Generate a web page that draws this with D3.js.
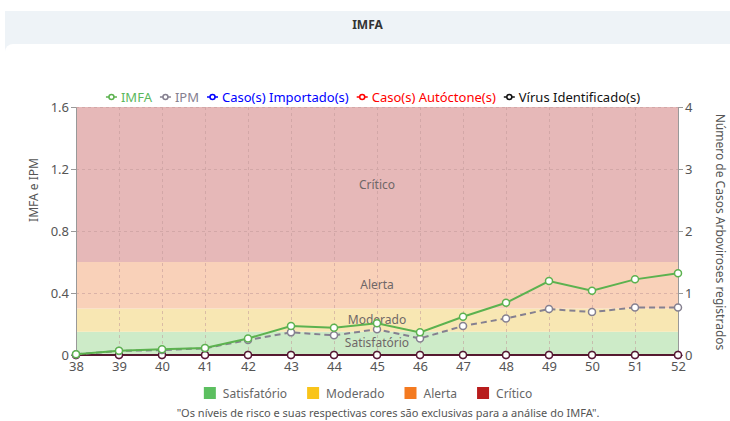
<!DOCTYPE html>
<html>
<head>
<meta charset="utf-8">
<script src="https://cdn.jsdelivr.net/npm/d3@7.9.0/dist/d3.min.js"></script>
<style>
  body { margin: 0; background: #fff; font-family: 'Noto Sans', sans-serif; }
  .wrap { position: absolute; left: 5px; top: 11px; width: 725px; height: 410px; background: #eef3f7; }
  .title { height: 33px; line-height: 27px; text-align: center; font-weight: bold; font-size: 12px; color: #333; }
  .card { position: absolute; left: 0; top: 33px; right: 0; bottom: 0; background: #fff; border-top-left-radius: 8px; }
  svg { position: absolute; left: 0; top: 0; }
</style>
</head>
<body>
<div class="wrap"><div class="title">IMFA</div><div class="card"></div></div>
<svg width="730" height="421"></svg>
<script>
const weeks = [38, 39, 40, 41, 42, 43, 44, 45, 46, 47, 48, 49, 50, 51, 52];
const imfa = [0.005, 0.028, 0.037, 0.045, 0.107, 0.187, 0.176, 0.205, 0.146, 0.247, 0.337, 0.477, 0.415, 0.488, 0.527];
const ipm = [0.005, 0.026, 0.032, 0.043, 0.097, 0.146, 0.127, 0.166, 0.107, 0.187, 0.236, 0.297, 0.277, 0.307, 0.307];
const importados = [0, 0, 0, 0, 0, 0, 0, 0, 0, 0, 0, 0, 0, 0, 0];
const autoctones = [0, 0, 0, 0, 0, 0, 0, 0, 0, 0, 0, 0, 0, 0, 0];
const virus = [0, 0, 0, 0, 0, 0, 0, 0, 0, 0, 0, 0, 0, 0, 0];
const leftTicks = [0, 0.4, 0.8, 1.2, 1.6];
const rightTicks = [0, 1, 2, 3, 4];

const bands = [
  { label: 'Satisfatório', from: 0, to: 0.15, fill: '#cdebc8', swatch: '#5cbf60' },
  { label: 'Moderado', from: 0.15, to: 0.3, fill: '#f8e7b3', swatch: '#f9c41a' },
  { label: 'Alerta', from: 0.3, to: 0.6, fill: '#f9d1b9', swatch: '#f47a20' },
  { label: 'Crítico', from: 0.6, to: 1.6, fill: '#e6b8b8', swatch: '#b81c1c' }
];

const series = [
  { name: 'IMFA', values: imfa, color: '#5cb24f', axis: 'left', dash: null },
  { name: 'IPM', values: ipm, color: '#858090', axis: 'left', dash: '6,4' },
  { name: 'Caso(s) Importado(s)', values: importados, color: '#0000ff', axis: 'right', dash: null },
  { name: 'Caso(s) Autóctone(s)', values: autoctones, color: '#ff0000', axis: 'right', dash: null },
  { name: 'Vírus Identificado(s)', values: virus, color: '#111111', axis: 'right', dash: null }
];

const svg = d3.select('svg');
const margin = { left: 76, right: 678, top: 107, bottom: 355 };

const x = d3.scaleLinear().domain([38, 52]).range([margin.left, margin.right]);
const y = d3.scaleLinear().domain([0, 1.6]).range([margin.bottom, margin.top]);
const y2 = d3.scaleLinear().domain([0, 4]).range([margin.bottom, margin.top]);

// faixas de risco
svg.append('g')
  .selectAll('rect')
  .data(bands)
  .join('rect')
  .attr('x', margin.left)
  .attr('width', margin.right - margin.left)
  .attr('y', (d) => y(d.to))
  .attr('height', (d) => y(d.from) - y(d.to))
  .attr('fill', (d) => d.fill);

// grade
const grid = svg.append('g').attr('stroke', '#c29a9a').attr('stroke-dasharray', '3,3').attr('stroke-width', 1).attr('opacity', 0.55);
grid.selectAll('.v')
  .data(weeks.slice(1, -1))
  .join('line')
  .attr('x1', (d) => x(d) + 0.5).attr('x2', (d) => x(d) + 0.5)
  .attr('y1', margin.top).attr('y2', margin.bottom);
grid.selectAll('.h')
  .data(leftTicks.slice(1))
  .join('line')
  .attr('x1', margin.left).attr('x2', margin.right)
  .attr('y1', (d) => y(d) + 0.5).attr('y2', (d) => y(d) + 0.5);

// rótulos das faixas
svg.append('g')
  .selectAll('text')
  .data(bands)
  .join('text')
  .attr('x', (margin.left + margin.right) / 2)
  .attr('y', (d) => y((d.from + d.to) / 2) + 4)
  .attr('text-anchor', 'middle')
  .attr('font-size', 12)
  .attr('fill', '#6f6767')
  .text((d) => d.label);

// eixos
const axisStyle = (g) => {
  g.selectAll('text').attr('fill', '#555').attr('font-size', 13).attr('font-family', "'Noto Sans', sans-serif");
  g.selectAll('line').attr('stroke', '#999');
  g.select('.domain').attr('stroke', '#999');
};

svg.append('g')
  .attr('transform', `translate(${margin.left},0)`)
  .call(d3.axisLeft(y).tickValues(leftTicks).tickFormat((d) => d === 0 ? '0' : d3.format('.1f')(d)).tickSize(5).tickSizeOuter(0).tickPadding(2))
  .call(axisStyle);

svg.append('g')
  .attr('transform', `translate(${margin.right},0)`)
  .call(d3.axisRight(y2).tickValues(rightTicks).tickFormat(d3.format('d')).tickSize(5).tickSizeOuter(0).tickPadding(2))
  .call(axisStyle);

svg.append('g')
  .attr('transform', `translate(0,${margin.bottom})`)
  .call(d3.axisBottom(x).tickValues(weeks).tickFormat(d3.format('d')).tickSize(0).tickPadding(7))
  .call(axisStyle)
  .call((g) => g.select('.domain').remove());

// títulos dos eixos
svg.append('text')
  .attr('transform', 'translate(38,190) rotate(-90)')
  .attr('text-anchor', 'middle')
  .attr('font-size', 12)
  .attr('fill', '#555')
  .text('IMFA e IPM');

svg.append('text')
  .attr('transform', 'translate(716,232) rotate(90)')
  .attr('text-anchor', 'middle')
  .attr('font-size', 12)
  .attr('fill', '#555')
  .text('Número de Casos Arboviroses registrados');

// linhas e marcadores
const drawOrder = [2, 3, 4, 1, 0];
drawOrder.forEach((i) => {
  const s = series[i];
  const ys = s.axis === 'left' ? y : y2;
  const line = d3.line().x((d, j) => x(weeks[j])).y((d) => ys(d));
  const g = svg.append('g').attr('opacity', s.axis === 'right' ? 0.6 : 1);
  g.append('path')
    .datum(s.values)
    .attr('d', line)
    .attr('fill', 'none')
    .attr('stroke', s.color)
    .attr('stroke-width', 2)
    .attr('stroke-dasharray', s.dash);
  g.selectAll('circle')
    .data(s.values)
    .join('circle')
    .attr('cx', (d, j) => x(weeks[j]))
    .attr('cy', (d) => ys(d))
    .attr('r', 3.5)
    .attr('fill', '#fff')
    .attr('stroke', s.color)
    .attr('stroke-width', 1.5);
});

// legenda superior
const legend = svg.append('g').attr('font-size', 13);
let cx = 0;
series.forEach((s) => {
  const item = legend.append('g');
  item.append('line').attr('x1', 0).attr('x2', 11).attr('y1', 0).attr('y2', 0)
    .attr('stroke', s.color).attr('stroke-width', 1.5);
  item.append('circle').attr('cx', 5.5).attr('cy', 0).attr('r', 2.5)
    .attr('fill', '#fff').attr('stroke', s.color).attr('stroke-width', 1.5);
  const t = item.append('text').attr('x', 15).attr('y', 4.5)
    .attr('fill', s.name === 'IMFA' ? '#5cb85c' : s.color)
    .text(s.name);
  item.attr('transform', `translate(${cx},0)`);
  cx += 15 + t.node().getComputedTextLength() + 8;
});
legend.attr('transform', `translate(${373 - (cx - 8) / 2},97)`);

// legenda inferior
const bottom = svg.append('g').attr('font-size', 12);
let bx = 0;
bands.forEach((b) => {
  const item = bottom.append('g').attr('transform', `translate(${bx},0)`);
  item.append('rect').attr('width', 12).attr('height', 12).attr('y', -6).attr('fill', b.swatch);
  const t = item.append('text').attr('x', 19).attr('y', 4.5).attr('fill', '#666').text(b.label);
  bx += 19 + t.node().getComputedTextLength() + 20;
});
bottom.attr('transform', `translate(${368 - (bx - 20) / 2},393)`);

svg.append('text')
  .attr('x', 388)
  .attr('y', 417)
  .attr('text-anchor', 'middle')
  .attr('font-size', 11)
  .attr('fill', '#555')
  .text('"Os níveis de risco e suas respectivas cores são exclusivas para a análise do IMFA".');
</script>
</body>
</html>
